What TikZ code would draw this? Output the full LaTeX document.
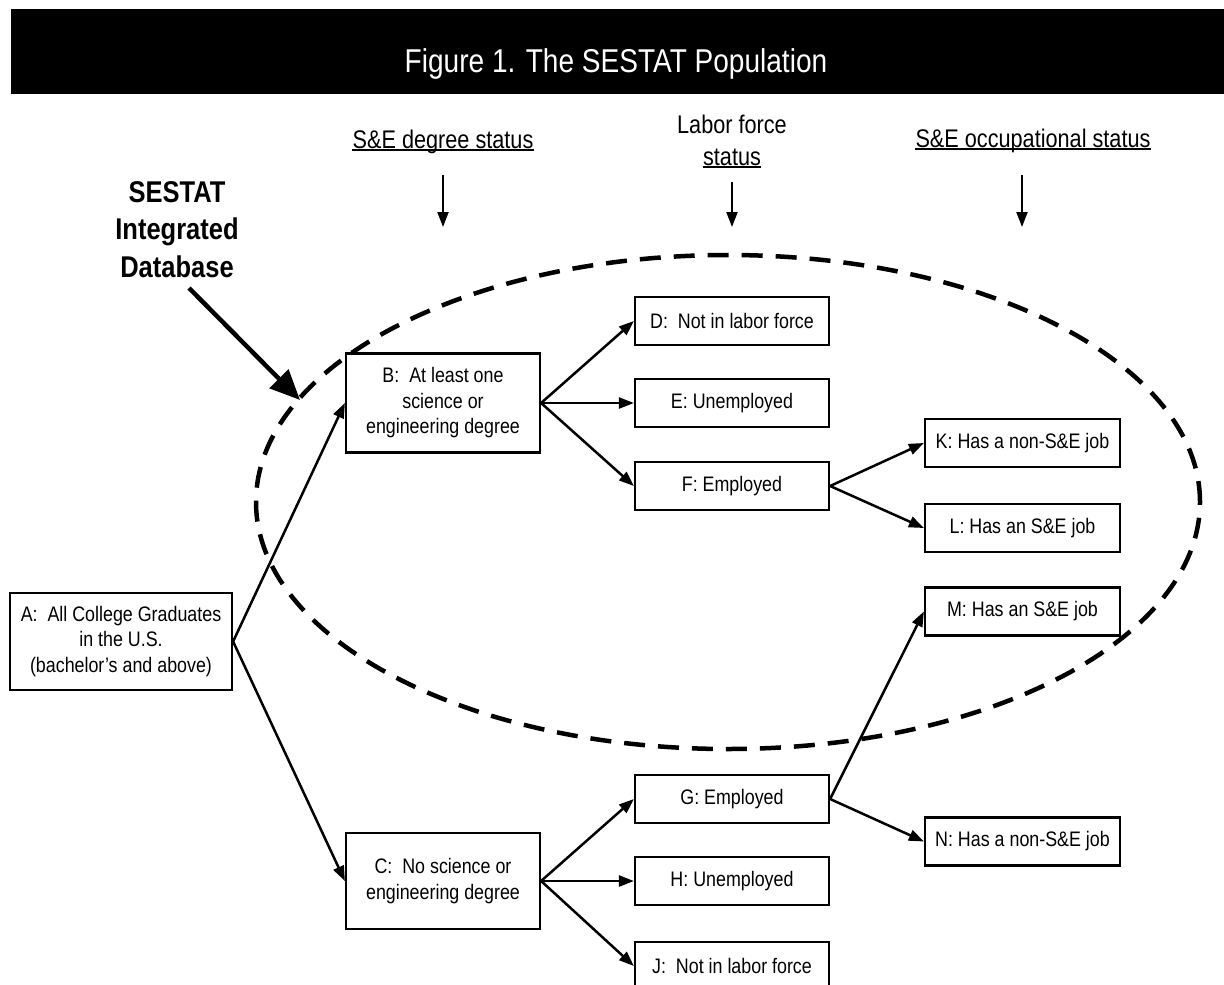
\documentclass[tikz,border=0pt]{standalone}
\usepackage{fontspec}
\setmainfont{Liberation Sans}[FakeStretch=0.85]
\usetikzlibrary{arrows.meta}
\begin{document}
\begin{tikzpicture}[x=1pt,y=-1pt,
  box/.style={draw, line width=2.2pt, fill=white, inner sep=0pt, align=center, font=\fontsize{21}{25.5}\selectfont},
  bigbox/.style={box, minimum width=194pt, minimum height=98pt},
  smallbox/.style={box, minimum width=194pt, minimum height=48pt},
  conn/.style={line width=2.5pt, -{Triangle[length=15pt,width=11pt]}},
  downarr/.style={line width=2.2pt, -{Triangle[length=15pt,width=11pt]}},
  hdr/.style={anchor=base, inner sep=0pt, font=\fontsize{25.5}{30}\selectfont},
  big/.style={anchor=base, inner sep=0pt, font=\bfseries\fontsize{30}{36}\selectfont},
  ul/.style={line width=1.4pt},
  boundary/.style={line width=4.5pt, dash pattern=on 21pt off 13pt},
]
\useasboundingbox (0,0) rectangle (1224,985);
% title bar
\fill[black] (11,9) rectangle (1224,94);
\node[anchor=base, text=white, inner sep=0pt, font=\fontsize{33}{36}\selectfont] (title) at (616,72) {Figure 1. The SESTAT Population};

% column headers
\node[hdr] (hB) at (443,148) {S\&E degree status};
\draw[ul] ([yshift=-2pt]hB.base west) -- ([yshift=-2pt]hB.base east);
\node[hdr] (hL1) at (732,133) {Labor force};
\node[hdr] (hL2) at (732,165) {status};
\draw[ul] ([yshift=-2pt]hL2.base west) -- ([yshift=-2pt]hL2.base east);
\node[hdr] (hO) at (1033,147) {S\&E occupational status};
\draw[ul] ([yshift=-2pt]hO.base west) -- ([yshift=-2pt]hO.base east);

\coordinate (d1s) at (443,175); \coordinate (d1e) at (443,227);
\coordinate (d2s) at (732,182); \coordinate (d2e) at (732,227);
\coordinate (d3s) at (1022,175); \coordinate (d3e) at (1022,227);
\draw[downarr] (d1s) -- (d1e);
\draw[downarr] (d2s) -- (d2e);
\draw[downarr] (d3s) -- (d3e);

% SESTAT label
\node[big] (s1) at (177,202) {SESTAT};
\node[big] (s2) at (177,239.5) {Integrated};
\node[big] (s3) at (177,277) {Database};

% dashed boundary
\draw[boundary] (728,502) ellipse [x radius=472pt, y radius=247pt];

\coordinate (sa) at (189,288); \coordinate (sb) at (300,400);
\draw[line width=4.5pt, -{Triangle[length=30pt,width=26pt]}] (sa) -- (sb);

% boxes
\node[box, minimum width=222pt, minimum height=97pt] (A) at (121,641.5) {A:\ \ All College Graduates\\in the U.S.\\(bachelor's and above)};
\node[bigbox, minimum height=99pt] (B) at (443,403) {B:\ \ At least one\\science or\\engineering degree};
\node[bigbox, minimum height=96pt] (C) at (443,881) {C:\ \ No science or\\engineering degree};
\node[smallbox] (D) at (732,321) {D:\ \ Not in labor force};
\node[smallbox] (E) at (732,403) {E: Unemployed};
\node[smallbox] (F) at (732,486) {F: Employed};
\node[smallbox] (G) at (732,799) {G: Employed};
\node[smallbox] (H) at (732,881) {H: Unemployed};
\node[smallbox] (J) at (732,966) {J:\ \ Not in labor force};
\node[smallbox, minimum width=195pt] (K) at (1022.5,443) {K: Has a non-S\&E job};
\node[smallbox, minimum width=195pt] (L) at (1022.5,528) {L: Has an S\&E job};
\node[smallbox, minimum width=195pt] (M) at (1022.5,611.5) {M: Has an S\&E job};
\node[smallbox, minimum width=195pt] (N) at (1022.5,841.5) {N: Has a non-S\&E job};

% connectors
\draw[conn] (A.east) -- (B.west);
\draw[conn] (A.east) -- (C.west);
\draw[conn] (B.east) -- (D.west);
\draw[conn] (B.east) -- (E.west);
\draw[conn] (B.east) -- (F.west);
\draw[conn] (F.east) -- (K.west);
\draw[conn] (F.east) -- (L.west);
\draw[conn] (C.east) -- (G.west);
\draw[conn] (C.east) -- (H.west);
\draw[conn] (C.east) -- (J.west);
\draw[conn] (G.east) -- (M.west);
\draw[conn] (G.east) -- (N.west);
\end{tikzpicture}
\end{document}
